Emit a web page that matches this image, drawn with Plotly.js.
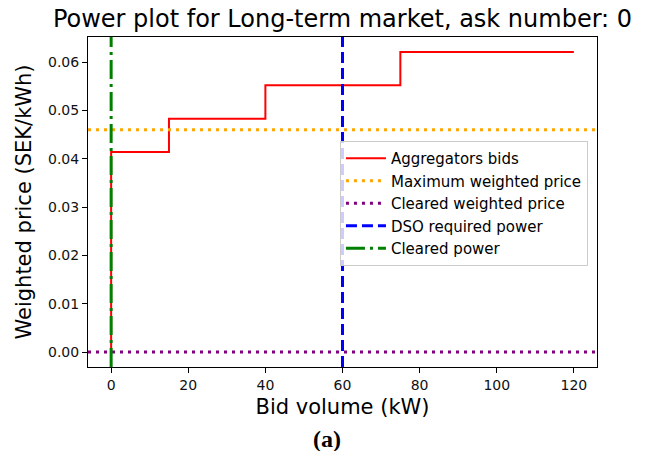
<!DOCTYPE html>
<html>
<head>
<meta charset="utf-8">
<script src="https://cdn.plot.ly/plotly-3.0.1.min.js"></script>
<style>html,body{margin:0;padding:0;background:#fff;}</style>
</head>
<body>
<div id="chart" style="width:650px;height:451px;"></div>
<script>
// ---- data ----
const bidVolumes = [0, 0, 15, 40, 75, 120];           // kW (step edges)
const bidPrices  = [0, 0.0414, 0.0483, 0.0552, 0.0621, 0.0621]; // SEK/kWh
const maxWeightedPrice = 0.046;
const clearedWeightedPrice = 0.0;
const dsoRequiredPower = 60;
const clearedPower = 0;
const xTicks = [0, 20, 40, 60, 80, 100, 120];
const yTicks = [0.00, 0.01, 0.02, 0.03, 0.04, 0.05, 0.06];
const legendNames = ["Aggregators bids", "Maximum weighted price", "Cleared weighted price", "DSO required power", "Cleared power"];

// axis ranges with matplotlib-like 5% margins
const xMin = Math.min(...bidVolumes), xMax = Math.max(...bidVolumes);
const yMin = 0, yMax = Math.max(...bidPrices);
const xRange = [xMin - 0.05 * (xMax - xMin), xMax + 0.05 * (xMax - xMin)];
const yRange = [yMin - 0.05 * (yMax - yMin), yMax + 0.05 * (yMax - yMin)];

const FONT = "DejaVu Sans, sans-serif";

const traces = [
  { x: bidVolumes, y: bidPrices, mode: "lines", line: { shape: "hv", color: "#ff0000", width: 2 }, name: legendNames[0] },
  { x: xRange, y: [maxWeightedPrice, maxWeightedPrice], mode: "lines", line: { color: "#ffa500", width: 3, dash: "3px,5px" }, name: legendNames[1] },
  { x: xRange, y: [clearedWeightedPrice, clearedWeightedPrice], mode: "lines", line: { color: "#800080", width: 3, dash: "3px,5px" }, name: legendNames[2] },
  { x: [dsoRequiredPower, dsoRequiredPower], y: yRange, mode: "lines", line: { color: "#0000ff", width: 3, dash: "11px,5px" }, name: legendNames[3] },
  { x: [clearedPower, clearedPower], y: yRange, mode: "lines", line: { color: "#008000", width: 3, dash: "19px,5px,3px,5px" }, name: legendNames[4] }
];

const axisCommon = {
  showline: true, mirror: true, linecolor: "#000", linewidth: 1,
  ticks: "outside", ticklen: 5, tickwidth: 1, tickcolor: "#000",
  showgrid: false, zeroline: false,
  tickfont: { family: FONT, size: 14, color: "#111" }
};

const layout = {
  width: 650, height: 451,
  margin: { l: 88, r: 53, t: 37, b: 84 },
  paper_bgcolor: "#fff", plot_bgcolor: "#fff",
  font: { family: FONT, color: "#000" },
  title: { text: "Power plot for Long-term market, ask number: 0", font: { family: FONT, size: 24, color: "#000" },
           xref: "paper", x: 0.5, xanchor: "center", yref: "container", y: 0.958, yanchor: "middle" },
  xaxis: Object.assign({}, axisCommon, {
    range: xRange, tickvals: xTicks, ticktext: xTicks.map(String),
    title: { text: "Bid volume (kW)", font: { family: FONT, size: 21, color: "#000" }, standoff: 7 }
  }),
  yaxis: Object.assign({}, axisCommon, {
    range: yRange, tickvals: yTicks, ticktext: yTicks.map(v => v.toFixed(2)),
    title: { text: "Weighted price (SEK/kWh)", font: { family: FONT, size: 21, color: "#000" }, standoff: 10 }
  }),
  legend: {
    x: 0.495, y: 0.685, xanchor: "left", yanchor: "top",
    bgcolor: "rgba(255,255,255,0.8)", bordercolor: "#cccccc", borderwidth: 1,
    font: { family: FONT, size: 15, color: "#000" }, itemwidth: 40
  },
  showlegend: true,
  annotations: [{
    text: "<b>(a)</b>", xref: "paper", yref: "paper", x: 0.4695, y: -0.218,
    xanchor: "center", yanchor: "middle", showarrow: false,
    font: { family: "Liberation Serif, Times New Roman, serif", size: 24, color: "#000" }
  }]
};

Plotly.newPlot("chart", traces, layout, { displayModeBar: false, staticPlot: true });
</script>
</body>
</html>
